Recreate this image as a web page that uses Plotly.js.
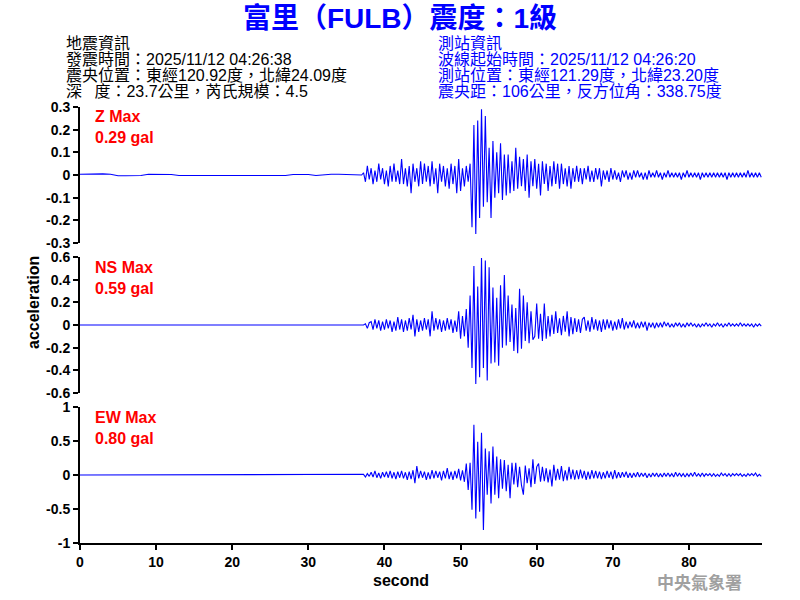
<!DOCTYPE html>
<html>
<head>
<meta charset="utf-8">
<script src="https://cdn.plot.ly/plotly-3.0.1.min.js"></script>
<style>html,body{margin:0;padding:0;background:#fff;}#chart{width:800px;height:600px;}</style>
</head>
<body>
<div id="chart"></div>
<script>
// ---- sampling of the record (seconds) ----
const PRE_START = 0, PRE_STEP = 1;          // quiet part, 1 s resolution
const EVT_START = 37.25, EVT_STEP = 0.25;   // shaking part, 0.25 s resolution

// ---- Z component (gal) ----
const zPre = [0.003,0.004,0.004,0.005,0.003,-0.003,-0.003,-0.003,-0.002,0.003,0.003,0.003,0.002,-0.002,-0.002,-0.002,0.001,-0.002,-0.002,-0.002,-0.002,-0.002,-0.002,-0.002,-0.002,-0.002,-0.002,-0.002,0.002,0.002,0.002,-0.002,0.002,0.003,0.003,0.002,0.001,0.0];
const zEvent = [
 0.01,-0.03,0.04,-0.02, 0.03,-0.04,0.02,-0.03, 0.05,-0.02,0.03,-0.04, 0.02,-0.05,0.04,-0.03,
 0.05,-0.03,0.02,-0.04, 0.07,-0.04,0.03,-0.05, 0.04,-0.08,0.05,-0.03, 0.03,-0.05,0.06,-0.04,
 0.05,-0.03,0.04,-0.05, 0.06,-0.04,0.03,-0.08, 0.05,-0.03,0.04,-0.05, 0.03,-0.06,0.05,-0.04,
 0.04,-0.08,0.07,-0.07, 0.03,-0.05,0.04,-0.03, 0.05,-0.23,0.22,-0.26, 0.24,-0.19,0.29,-0.14,
 0.26,-0.12,0.12,-0.19, 0.15,-0.10,0.10,-0.08, 0.14,-0.11,0.09,-0.09, 0.09,-0.08,0.06,-0.07,
 0.12,-0.06,0.08,-0.05, 0.07,-0.07,0.09,-0.10, 0.06,-0.05,0.07,-0.06, 0.05,-0.09,0.06,-0.04,
 0.05,-0.07,0.04,-0.05, 0.06,-0.04,0.05,-0.06, 0.05,-0.04,0.03,-0.05, 0.04,-0.06,0.03,-0.03,
 0.04,-0.03,0.03,-0.04, 0.03,-0.02,0.04,-0.03, 0.02,-0.03,0.03,-0.02, 0.03,-0.05,0.02,-0.02,
 0.02,-0.03,0.03,-0.02, 0.02,-0.02,0.01,-0.03, 0.02,-0.01,0.02,-0.02, 0.01,-0.02,0.02,-0.01,
 0.02,-0.01,0.01,-0.02, 0.01,-0.02,0.02,-0.01, 0.01,-0.01,0.02,-0.01, 0.01,-0.02,0.01,-0.01,
 0.02,-0.01,0.01,-0.01, 0.01,-0.01,0.01,-0.02, 0.01,-0.01,0.02,-0.01, 0.01,-0.01,0.01,-0.01,
 0.01,-0.02,0.01,-0.01, 0.01,-0.01,0.01,-0.01, 0.01,-0.01,0.01,-0.01, 0.01,-0.01,0.01,-0.02,
 0.01,-0.01,0.01,-0.01, 0.01,-0.01,0.01,-0.01, 0.01,-0.01,0.02,-0.01, 0.01,-0.01,0.01,-0.01,
 0.01,-0.01
];

// ---- NS component (gal) ----
const nsPre = [0,0.002,0,0,0,0,0,0,-0.002,0,0,0,0,0,-0.002,0,0,0,0,0,0,0,0,0,-0.002,0,0,-0.002,0,0,0.002,0,-0.002,0,0.002,0,0,0];
const nsEvent = [
 0.0,0.01,-0.03,0.02, 0.03,-0.04,0.05,-0.03, 0.04,-0.05,0.03,-0.04, 0.05,-0.03,0.04,-0.06,
 0.03,-0.05,0.07,-0.04, 0.05,-0.06,0.04,-0.05, 0.06,-0.04,0.09,-0.10, 0.05,-0.06,0.04,-0.05,
 0.06,-0.04,0.05,-0.10, 0.12,-0.05,0.06,-0.04, 0.05,-0.06,0.04,-0.05, 0.06,-0.04,0.05,-0.07,
 0.04,-0.06,0.12,-0.12, 0.08,-0.10,0.14,-0.20, 0.26,-0.38,0.52,-0.52, 0.34,-0.46,0.59,-0.38,
 0.57,-0.49,0.51,-0.34, 0.33,-0.33,0.24,-0.36, 0.35,-0.20,0.44,-0.18, 0.26,-0.15,0.18,-0.23,
 0.15,-0.25,0.32,-0.21, 0.26,-0.14,0.20,-0.16, 0.12,-0.13,-0.10,0.19, -0.12,0.10,-0.14,0.19,
 -0.12,0.08,-0.10,0.09, -0.08,0.12,-0.07,0.06, -0.09,0.08,-0.06,0.12, -0.10,0.07,-0.08,0.06,
 -0.06,0.05,-0.07,0.05, 0.07,-0.05,0.04,-0.06, 0.07,-0.04,0.05,-0.05, 0.04,-0.06,0.05,-0.04,
 0.05,-0.03,0.04,-0.05, 0.03,-0.04,0.05,-0.03, 0.06,-0.04,0.03,-0.03, 0.03,-0.02,0.04,-0.03,
 0.02,-0.03,0.03,-0.02, 0.03,-0.05,0.02,-0.02, 0.02,-0.03,0.02,-0.02, 0.02,-0.02,0.03,-0.01,
 0.02,-0.02,0.01,-0.02, 0.02,-0.01,0.02,-0.02, 0.01,-0.02,0.02,-0.01, 0.02,-0.01,0.01,-0.02,
 0.01,-0.02,0.01,-0.01, 0.02,-0.01,0.01,-0.02, 0.01,-0.01,0.02,-0.01, 0.01,-0.02,0.01,-0.01,
 0.02,-0.01,0.01,-0.01, 0.01,-0.01,0.02,-0.01, 0.01,-0.01,0.01,-0.01, 0.01,-0.02,0.01,-0.01,
 0.01,-0.01
];

// ---- EW component (gal) ----
const ewPre = [0,0,0,0,0,0,0,0,0,0,0,0,0,0,0,0,0,0,0,0,0,0,0,0,0,0,0,0,0,0,0,0,0,0,0,0,0,0];
const ewEvent = [
 0.01,-0.03,0.02,-0.02, 0.04,-0.03,0.06,-0.04, 0.03,-0.05,0.04,-0.03, 0.05,-0.04,0.06,-0.05,
 0.04,-0.06,0.05,-0.04, 0.06,-0.05,0.04,-0.07, 0.05,-0.06,0.07,-0.12, 0.13,-0.05,0.06,-0.04,
 0.05,-0.07,0.04,-0.06, 0.07,-0.05,0.06,-0.04, 0.05,-0.08,0.06,-0.05, 0.10,-0.06,0.05,-0.07,
 0.06,-0.05,0.09,-0.08, 0.07,-0.10,0.17,-0.22, 0.18,-0.51,0.74,-0.64, 0.49,-0.54,0.62,-0.81,
 0.39,-0.29,0.35,-0.42, 0.42,-0.29,0.27,-0.34, 0.23,-0.20,0.22,-0.24, 0.15,-0.34,0.18,-0.14,
 0.18,-0.18,0.12,-0.15, -0.29,0.14,-0.12,0.10, -0.18,0.23,-0.13,0.12, 0.17,-0.10,0.12,-0.09,
 0.10,-0.11,0.08,-0.17, 0.15,-0.08,0.09,-0.07, 0.13,-0.09,0.07,-0.08, 0.12,-0.06,0.08,-0.07,
 0.07,-0.06,0.08,-0.05, 0.06,-0.07,0.05,-0.06, 0.07,-0.05,0.06,-0.05, 0.05,-0.06,0.04,-0.05,
 0.06,-0.04,0.05,-0.06, 0.07,-0.05,0.04,-0.04, 0.04,-0.03,0.05,-0.04, 0.03,-0.04,0.03,-0.03,
 0.04,-0.03,0.03,-0.02, 0.03,-0.04,0.02,-0.03, 0.03,-0.02,0.03,-0.03, 0.02,-0.03,0.03,-0.02,
 0.03,-0.02,0.02,-0.03, 0.04,-0.02,0.03,-0.02, 0.02,-0.03,0.02,-0.02, 0.03,-0.02,0.04,-0.02,
 0.02,-0.02,0.03,-0.02, 0.02,-0.01,0.02,-0.02, 0.02,-0.02,0.01,-0.02, 0.03,-0.01,0.02,-0.02,
 0.02,-0.02,0.02,-0.01, 0.02,-0.01,0.02,-0.02, 0.01,-0.02,0.02,-0.01, 0.02,-0.01,0.03,-0.02,
 0.01,-0.02
];

// ---- tick labels ----
const xTicks = [0,10,20,30,40,50,60,70,80];
const zTickVals = [-0.3,-0.2,-0.1,0,0.1,0.2,0.3];
const zTickText = ['-0.3','-0.2','-0.1','0','0.1','0.2','0.3'];
const nsTickVals = [-0.6,-0.4,-0.2,0,0.2,0.4,0.6];
const nsTickText = ['-0.6','-0.4','-0.2','0','0.2','0.4','0.6'];
const ewTickVals = [-1,-0.5,0,0.5,1];
const ewTickText = ['-1','-0.5','0','0.5','1'];

// ---- texts ----
const titleText = '富里（FULB）震度：1級';
const quakeInfo = ['地震資訊','發震時間：2025/11/12 04:26:38','震央位置：東經120.92度，北緯24.09度','深\u2002\u00a0度：23.7公里，芮氏規模：4.5'];
const stationInfo = ['測站資訊','波線起始時間：2025/11/12 04:26:20','測站位置：東經121.29度，北緯23.20度','震央距：106公里，反方位角：338.75度'];
const maxLabels = [['Z Max','0.29 gal'],['NS Max','0.59 gal'],['EW Max','0.80 gal']];

function times(s0, step, n) { const t = []; for (let i = 0; i < n; i++) t.push(+(s0 + i*step).toFixed(3)); return t; }
function series(pre, evt) {
  return { x: times(PRE_START, PRE_STEP, pre.length).concat(times(EVT_START, EVT_STEP, evt.length)), y: pre.concat(evt) };
}

const FONT = 'Liberation Sans, Arial, Noto Sans CJK TC, sans-serif';
const W = 800, H = 600, L = 80, R = 38, T = 107, B = 57;
const PW = W - L - R, PH = H - T - B;
const px = v => (v - L) / PW;
const py = v => (H - B - v) / PH;

const traces = [
  [zPre, zEvent, 'y'], [nsPre, nsEvent, 'y2'], [ewPre, ewEvent, 'y3']
].map(([p, e, ya]) => {
  const s = series(p, e);
  return { type: 'scatter', mode: 'lines', x: s.x, y: s.y, xaxis: 'x', yaxis: ya,
           line: { color: '#0000ff', width: 1.1 }, hoverinfo: 'skip' };
});

function yax(domain, range, vals, text) {
  return { domain: domain, range: range, anchor: 'x', showline: true, linecolor: '#000', linewidth: 2,
           ticks: 'outside', ticklen: 5, tickwidth: 2, tickcolor: '#000', showgrid: false, zeroline: false,
           tickmode: 'array', tickvals: vals, ticktext: text,
           tickfont: { family: FONT, size: 14, color: '#000', weight: 'bold' }, fixedrange: true };
}

const annotations = [];
const hdrFont = (c) => ({ family: FONT, size: 16, color: c });
const ys = [44, 60, 75, 91];
quakeInfo.forEach((t, i) => annotations.push({ text: t, xref: 'paper', yref: 'paper', x: px(64), y: py(ys[i]), xanchor: 'left', yanchor: 'middle', showarrow: false, font: hdrFont('#000') }));
stationInfo.forEach((t, i) => annotations.push({ text: t, xref: 'paper', yref: 'paper', x: px(436), y: py(ys[i]), xanchor: 'left', yanchor: 'middle', showarrow: false, font: hdrFont('#0000ff') }));
const maxY = [[116, 137], [267, 288], [417, 438]];
maxLabels.forEach((pair, k) => {
  pair.forEach((t, j) => annotations.push({ text: '<b>' + t + '</b>', xref: 'paper', yref: 'paper', x: px(93), y: py(maxY[k][j]), xanchor: 'left', yanchor: 'middle', showarrow: false, font: { family: FONT, size: 16, color: '#ff0000' } }));
});
annotations.push({ text: '<b>acceleration</b>', xref: 'paper', yref: 'paper', x: px(33), y: py(303), xanchor: 'center', yanchor: 'middle', textangle: -90, showarrow: false, font: { family: FONT, size: 16, color: '#000' } });
annotations.push({ text: '<b>second</b>', xref: 'paper', yref: 'paper', x: px(401), y: py(580), xanchor: 'center', yanchor: 'middle', showarrow: false, font: { family: FONT, size: 16, color: '#000' } });
annotations.push({ text: '<b>中央氣象署</b>', xref: 'paper', yref: 'paper', x: px(699), y: py(581), xanchor: 'center', yanchor: 'middle', showarrow: false, font: { family: 'Noto Sans CJK TC, sans-serif', size: 17, color: '#a0a0a0' } });

const layout = {
  width: W, height: H, margin: { l: L, r: R, t: T, b: B }, showlegend: false,
  paper_bgcolor: '#fff', plot_bgcolor: '#fff',
  title: { text: '<b>' + titleText + '</b>', xref: 'container', yref: 'container', x: 0.5, y: 1 - 18/600, xanchor: 'center', yanchor: 'middle',
           font: { family: FONT, size: 28, color: '#0000ff' } },
  xaxis: { range: [0, 89.6], anchor: 'y3', showline: true, linecolor: '#000', linewidth: 2, ticks: 'outside', ticklen: 5, tickwidth: 2, tickcolor: '#000',
           tickmode: 'array', tickvals: xTicks, ticktext: xTicks.map(String), showgrid: false, zeroline: false,
           tickfont: { family: FONT, size: 14, color: '#000', weight: 'bold' }, fixedrange: true },
  yaxis: yax([py(243), 1], [-0.3, 0.3], zTickVals, zTickText),
  yaxis2: yax([py(393), py(257)], [-0.6, 0.6], nsTickVals, nsTickText),
  yaxis3: yax([0, py(407)], [-1, 1], ewTickVals, ewTickText),
  annotations: annotations
};

Plotly.newPlot('chart', traces, layout, { staticPlot: true, displayModeBar: false });
</script>
</body>
</html>
